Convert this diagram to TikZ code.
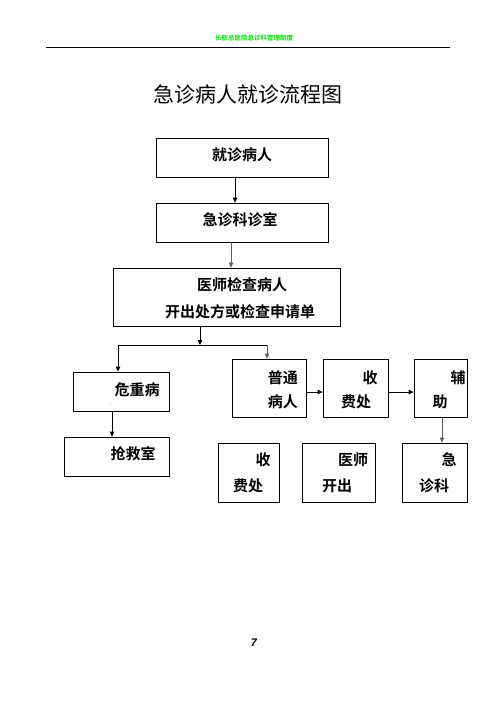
\documentclass[tikz,border=0pt]{standalone}
\usepackage{fontspec}
\newfontfamily\cjk[BoldFont={Noto Sans CJK SC Bold}]{Noto Sans CJK SC}
\newfontfamily\pgfont{Liberation Sans}
\definecolor{hdgreen}{RGB}{0,225,0}
\definecolor{argray}{RGB}{95,95,95}
\usetikzlibrary{arrows.meta,positioning,calc}

\begin{document}
\begin{tikzpicture}[x=1pt, y=-1pt,
  box/.style={draw, line width=0.8pt, inner sep=0pt},
  txt/.style={font=\cjk\bfseries\fontsize{15}{15}\selectfont, inner sep=0pt},
  arr/.style={line width=0.8pt, -{Triangle[length=5pt,width=4.5pt]}},
  garr/.style={arr, draw=argray}]
  \useasboundingbox (0,0) rectangle (496,702);

  % Header
  \node[font=\cjk\bfseries\fontsize{6.5}{6.5}\selectfont, text=hdgreen] (hdr) at (254,38) {长航总医院急诊科管理制度};
  \draw[line width=0.9pt] (46,47) -- (450,47);

  % Title
  \node[font=\cjk\fontsize{21}{21}\selectfont] (title) at (248,94) {急诊病人就诊流程图};

  % Top column
  \node[box, minimum width=172pt, minimum height=39pt] (visit) at (242,157.5) {};
  \node[txt] (tvisit) at (242,155) {就诊病人};
  \node[box, minimum width=172pt, minimum height=39pt] (room) at (242,222.5) {};
  \node[txt] (troom) at (240,220) {急诊科诊室};
  \node[box, minimum width=227pt, minimum height=58pt] (exam) at (226.5,297) {};
  \node[txt] (texam1) at (242,285) {医师检查病人};
  \node[txt] (texam2) at (240,312) {开出处方或检查申请单};

  \coordinate (visitx) at (235,0);
  \coordinate (roomx) at (231,0);
  \draw[arr] (visit.south -| visitx) -- (room.north -| visitx);
  \draw[garr] (room.south -| roomx) -- (exam.north -| roomx);

  % Split
  \coordinate (split) at (200,345);
  \coordinate (splitl) at (118,345);
  \coordinate (splitr) at (267,345);
  \draw[arr] (exam.south -| split) -- (split);
  \draw[line width=0.8pt] (splitl) -- (splitr);

  % Left branch
  \node[box, minimum width=96pt, minimum height=39pt] (crit) at (121,391.5) {};
  \node[txt] (tcrit) at (137,390) {危重病};
  \node[font=\tiny, inner sep=0pt] (dot) at (111,405) {.};
  \node[box, minimum width=105pt, minimum height=39pt] (rescue) at (116.5,456.5) {};
  \node[txt] (trescue) at (133,454) {抢救室};
  \coordinate (critx) at (112,0);
  \draw[arr] (splitl) -- (crit.north -| splitl);
  \draw[arr] (crit.south -| critx) -- (rescue.north -| critx);

  % Right branch, top row
  \coordinate (row) at (0,392);
  \node[box, minimum width=74pt, minimum height=58pt] (normal) at (269,388) {};
  \node[txt, anchor=east] (tnormal1) at (298,378) {普通};
  \node[txt, anchor=east] (tnormal2) at (298,402) {病人};
  \node[box, minimum width=65pt, minimum height=58pt] (fee) at (355.5,388) {};
  \node[txt] (tfee1) at (370,378) {收};
  \node[txt] (tfee2) at (356,402) {费处};
  \node[box, minimum width=53pt, minimum height=58pt] (aux) at (440.5,388) {};
  \node[txt] (taux1) at (458,378) {辅};
  \node[txt] (taux2) at (440,402) {助};
  \draw[garr] (splitr) -- (normal.north -| splitr);
  \draw[arr] (normal.east |- row) -- (fee.west |- row);
  \draw[arr] (fee.east |- row) -- (aux.west |- row);

  % Right branch, bottom row
  \node[box, minimum width=61pt, minimum height=59pt] (fee2) at (248.5,472.5) {};
  \node[txt] (tfee21) at (263,460) {收};
  \node[txt] (tfee22) at (248,486) {费处};
  \node[box, minimum width=73pt, minimum height=59pt] (doc) at (338.5,472.5) {};
  \node[txt] (tdoc1) at (353,460) {医师};
  \node[txt] (tdoc2) at (337,486) {开出};
  \node[box, minimum width=65pt, minimum height=59pt] (emer) at (434.5,472.5) {};
  \node[txt] (temer1) at (449,460) {急};
  \node[txt] (temer2) at (434,486) {诊科};
  \coordinate (auxx) at (442,0);
  \draw[garr] (aux.south -| auxx) -- (emer.north -| auxx);

  % Page number
  \node[font=\pgfont\bfseries\itshape\fontsize{11}{11}\selectfont, inner sep=0pt] (page) at (254,643) {7};
\end{tikzpicture}
\end{document}
